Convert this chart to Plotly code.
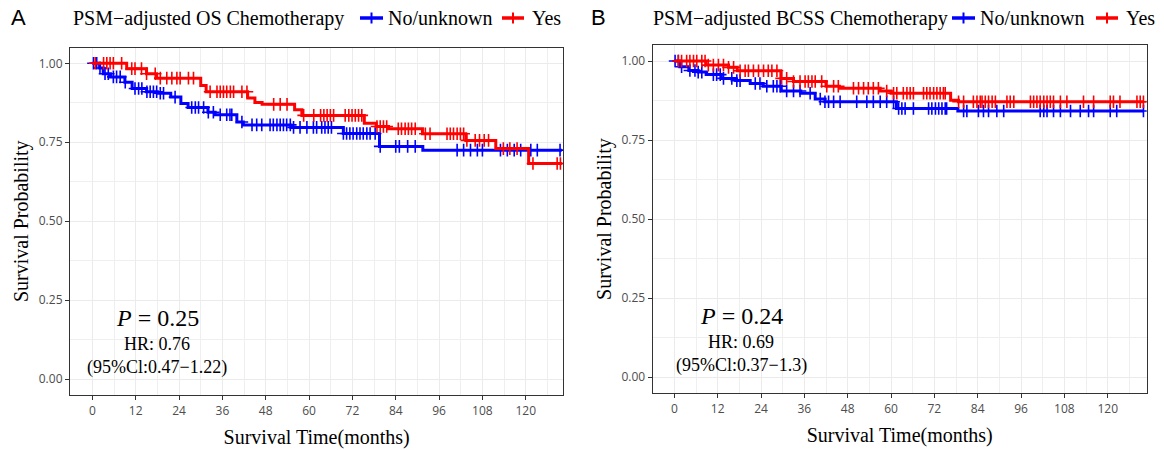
import numpy as np
import plotly.graph_objects as go

# ---------------- data ----------------
tick_months = [0, 12, 24, 36, 48, 60, 72, 84, 96, 108, 120]
tick_labels = [str(v) for v in tick_months]
y_ticks = [0.0, 0.25, 0.5, 0.75, 1.0]
y_tick_labels = ["0.00", "0.25", "0.50", "0.75", "1.00"]
groups = ["No/unknown", "Yes"]
group_colors = ["#0000FF", "#FF0000"]
end_time = 130.0

# Panel A: OS
os_no_t = [0, 2, 3, 5, 9, 11, 15, 18, 21.7, 24.5, 26.5, 32, 34, 40, 41.8, 55, 69.5, 79.5, 91.5]
os_no_s = [1.0, 0.985, 0.967, 0.957, 0.94, 0.92, 0.91, 0.905, 0.893, 0.873, 0.86, 0.845, 0.837,
           0.814, 0.805, 0.797, 0.778, 0.737, 0.725]
os_yes_t = [0, 9.5, 15, 17.8, 30, 31.5, 43, 45, 47, 56, 58, 75.3, 78.6, 82, 91.4, 103.4, 111.7, 120.8]
os_yes_s = [1.0, 0.983, 0.967, 0.953, 0.93, 0.91, 0.89, 0.876, 0.87, 0.853, 0.835, 0.81, 0.80,
            0.793, 0.777, 0.756, 0.73, 0.683]
os_no_cens = [0.3, 1.2, 2.1, 3.5, 4.4, 5.8, 6.7, 7.7, 9.1, 11.8, 12.8, 13.7, 15.1, 16.0, 16.9, 17.8,
              18.8, 19.7, 22.9, 27.5, 28.5, 29.4, 30.8, 32.1, 33.5, 35.4, 37.2, 38.1, 38.6, 41.4, 44.2,
              45.5, 46.9, 49.2, 50.1, 51.1, 52.0, 52.9, 53.8, 54.8, 55.7, 57.5, 59.4, 61.2, 62.1, 63.5,
              64.4, 65.3, 66.2, 69.5, 70.4, 71.3, 72.2, 73.2, 74.1, 75.0, 76.0, 76.9, 78.3, 79.7, 84.0,
              85.0, 87.3, 89.4, 101.0, 102.8, 104.7, 106.6, 108.0, 113.0, 114.9, 116.8, 118.6, 121.4,
              123.2, 129.5]
os_yes_cens = [0.8, 3.1, 4.0, 4.9, 5.8, 8.1, 10.9, 11.8, 13.6, 15.0, 17.4, 18.8, 20.6, 22.0, 23.4, 24.3,
               26.6, 28.0, 32.6, 34.5, 35.4, 36.3, 37.2, 38.2, 39.1, 41.4, 42.8, 50.2, 52.0, 53.9, 58.5,
               61.3, 63.2, 64.1, 65.0, 65.9, 66.8, 70.0, 71.0, 71.9, 72.8, 73.7, 74.6, 78.8, 79.7, 80.6,
               81.5, 84.7, 85.6, 86.6, 87.5, 88.4, 89.4, 92.2, 93.5, 98.2, 99.1, 100.0, 101.0, 101.9,
               102.8, 103.7, 106.0, 107.2, 108.5, 109.7, 113.8, 115.6, 117.6, 122.0, 128.7, 129.6]

# Panel B: BCSS
bcss_no_t = [0, 1.5, 4, 6.6, 8.8, 13, 17, 21, 24.6, 29.6, 35, 39, 41.7, 61.5, 78.5]
bcss_no_s = [1.0, 0.982, 0.97, 0.965, 0.957, 0.945, 0.938, 0.929, 0.92, 0.905, 0.898, 0.88, 0.871,
             0.85, 0.842]
bcss_yes_t = [0, 8.8, 15, 17.4, 29.5, 33, 42, 45.7, 57, 60, 76.5, 78.7]
bcss_yes_s = [1.0, 0.987, 0.98, 0.969, 0.945, 0.935, 0.92, 0.914, 0.905, 0.898, 0.876, 0.871]
bcss_no_cens = [0.2, 1.1, 2.0, 4.3, 5.7, 6.6, 7.6, 10.8, 11.7, 12.7, 13.6, 15.9, 17.3, 18.2, 22.4, 23.7,
                25.6, 27.4, 28.4, 29.3, 31.1, 33.0, 34.8, 37.6, 40.4, 41.7, 42.7, 44.1, 45.9, 50.5, 53.3,
                55.1, 57.0, 58.8, 60.7, 62.1, 63.0, 63.9, 66.2, 70.4, 71.3, 72.3, 73.2, 74.1, 75.0, 75.4,
                80.1, 81.0, 84.2, 85.6, 87.0, 89.3, 91.2, 101.3, 102.3, 103.2, 105.0, 106.9, 109.7, 112.4,
                114.7, 116.1, 120.7, 122.5, 129.9]
bcss_yes_cens = [1.1, 2.0, 3.4, 4.3, 5.3, 6.2, 7.6, 8.5, 9.4, 10.8, 12.2, 13.6, 15.0, 16.4, 18.2, 19.6,
                 20.5, 21.9, 23.3, 24.7, 26.0, 27.0, 28.4, 29.7, 31.1, 33.0, 34.8, 36.2, 37.1, 38.1, 39.0,
                 40.8, 42.2, 44.1, 45.4, 49.6, 51.0, 52.4, 53.7, 55.1, 56.5, 58.8, 60.7, 61.6, 63.4, 64.4,
                 65.3, 66.2, 69.0, 69.9, 70.8, 71.8, 72.7, 73.6, 74.5, 75.0, 78.7, 80.1, 82.8, 83.8, 84.7,
                 85.2, 86.1, 87.0, 88.0, 88.9, 92.1, 93.0, 94.0, 98.6, 99.5, 100.4, 101.3, 102.3, 103.2,
                 104.1, 105.0, 106.9, 108.7, 113.3, 116.1, 120.7, 121.6, 123.4, 128.1, 129.0, 129.9]

legend_titles = ["PSM\u2212adjusted OS Chemotherapy", "PSM\u2212adjusted BCSS Chemotherapy"]
p_texts = ["<i>P</i> = 0.25", "<i>P</i> = 0.24"]
hr_texts = ["HR: 0.76", "HR: 0.69"]
ci_texts = ["(95%Cl:0.47\u22121.22)", "(95%Cl:0.37\u22121.3)"]
panel_letters = ["A", "B"]

# ---------------- figure ----------------
SERIF = "Liberation Serif, Times New Roman, serif"
SANS = "Open Sans, Liberation Sans, sans-serif"
W, H = 1164, 450

fig = go.Figure()


def step_value(times, surv, t):
    idx = np.searchsorted(np.asarray(times), t, side="right") - 1
    return float(np.asarray(surv)[max(idx, 0)])


panels = [
    [(os_no_t, os_no_s, os_no_cens), (os_yes_t, os_yes_s, os_yes_cens)],
    [(bcss_no_t, bcss_no_s, bcss_no_cens), (bcss_yes_t, bcss_yes_s, bcss_yes_cens)],
]

for p, curves in enumerate(panels):
    xa = "x" if p == 0 else "x2"
    ya = "y" if p == 0 else "y2"
    for g, (t, s, cens) in enumerate(curves):
        col = group_colors[g]
        fig.add_trace(go.Scatter(
            x=list(t) + [end_time], y=list(s) + [s[-1]], mode="lines", name=groups[g],
            line=dict(color=col, width=3, shape="hv"), xaxis=xa, yaxis=ya,
            showlegend=False, hoverinfo="skip"))
        cy = [step_value(t, s, c) for c in cens]
        fig.add_trace(go.Scatter(
            x=cens, y=cy, mode="markers", name=groups[g],
            marker=dict(symbol="cross-thin", size=9, color=col, line=dict(color=col, width=1.6)),
            xaxis=xa, yaxis=ya, showlegend=False, hoverinfo="skip"))

axis_common = dict(
    showgrid=True, gridcolor="#EBEBEB", gridwidth=1.1,
    showline=True, mirror=True, linecolor="#333333", linewidth=1.2,
    ticks="outside", ticklen=4, tickwidth=1.2, tickcolor="#333333",
    tickfont=dict(family=SANS, size=12, color="#4D4D4D"),
    zeroline=False,
)

xaxis_common = dict(axis_common, tickvals=tick_months, ticktext=tick_labels,
                    minor=dict(tickvals=[m + 6 for m in tick_months], showgrid=True,
                               gridcolor="#EFEFEF", gridwidth=0.6, ticks=""),
                    title=dict(text="Survival Time(months)", font=dict(family=SERIF, size=20, color="black"),
                               standoff=12))
yaxis_common = dict(axis_common, tickvals=y_ticks, ticktext=y_tick_labels, range=[-0.05, 1.05],
                    minor=dict(tickvals=[0.125, 0.375, 0.625, 0.875], showgrid=True,
                               gridcolor="#EFEFEF", gridwidth=0.6, ticks=""),
                    title=dict(text="Survival Probability", font=dict(family=SERIF, size=20, color="black"),
                               standoff=4))

fig.update_layout(
    width=W, height=H,
    margin=dict(l=0, r=0, t=0, b=0),
    paper_bgcolor="white", plot_bgcolor="white",
    showlegend=False,
    xaxis=dict(xaxis_common, domain=[70 / W, 563.3 / W], range=[-6.2, 130.4], anchor="y"),
    yaxis=dict(yaxis_common, domain=[1 - 395 / H, 1 - 47.5 / H], anchor="x"),
    xaxis2=dict(xaxis_common, domain=[652.7 / W, 1146.7 / W], range=[-6.0, 130.8], anchor="y2"),
    yaxis2=dict(yaxis_common, domain=[1 - 393 / H, 1 - 45.2 / H], anchor="x2"),
)

# ---- legends (title + key symbols + labels), drawn in figure pixels ----
legend_y = 18
legend_layout = [
    (71, [(360, 383, 386), (502, 524, 530)]),
    (651, [(952, 975, 978), (1096, 1118, 1124)]),
]
ly = 1 - legend_y / H
for p, (title_left, items) in enumerate(legend_layout):
    fig.add_annotation(x=title_left / W, y=ly, xref="paper", yref="paper", text=legend_titles[p],
                       xanchor="left", yanchor="middle", showarrow=False,
                       font=dict(family=SERIF, size=20, color="black"))
    for g, (sx0, sx1, tx) in enumerate(items):
        col = group_colors[g]
        fig.add_shape(type="line", xref="paper", yref="paper", x0=sx0 / W, x1=sx1 / W, y0=ly, y1=ly,
                      line=dict(color=col, width=3.5))
        xm = (sx0 + sx1) / 2 / W
        fig.add_shape(type="line", xref="paper", yref="paper", x0=xm, x1=xm,
                      y0=1 - (legend_y - 5.5) / H, y1=1 - (legend_y + 5.5) / H,
                      line=dict(color=col, width=2))
        fig.add_annotation(x=tx / W, y=ly, xref="paper", yref="paper", text=groups[g],
                           xanchor="left", yanchor="middle", showarrow=False,
                           font=dict(family=SERIF, size=20, color="black"))

# annotations: P value, HR, CI
ann_pos = [(17.9, "x", "y"), (18.5, "x2", "y2")]
for p in range(2):
    xv, xr, yr = ann_pos[p]
    fig.add_annotation(x=xv, y=0.195, xref=xr, yref=yr, text=p_texts[p], showarrow=False,
                       font=dict(family=SERIF, size=24, color="black"))
    fig.add_annotation(x=xv, y=0.11, xref=xr, yref=yr, text=hr_texts[p], showarrow=False,
                       font=dict(family=SERIF, size=18, color="black"))
    fig.add_annotation(x=xv, y=0.036, xref=xr, yref=yr, text=ci_texts[p], showarrow=False,
                       font=dict(family=SERIF, size=18, color="black"))

# panel letters
for p, xpx in enumerate([18, 598]):
    fig.add_annotation(x=xpx / W, y=1 - 17 / H, xref="paper", yref="paper", text=panel_letters[p],
                       xanchor="center", yanchor="middle", showarrow=False,
                       font=dict(family="Liberation Sans, Arial, sans-serif", size=22, color="black"))

fig.write_html("out.html", config={"displayModeBar": False},
               post_script="document.body.style.margin='0px';")
